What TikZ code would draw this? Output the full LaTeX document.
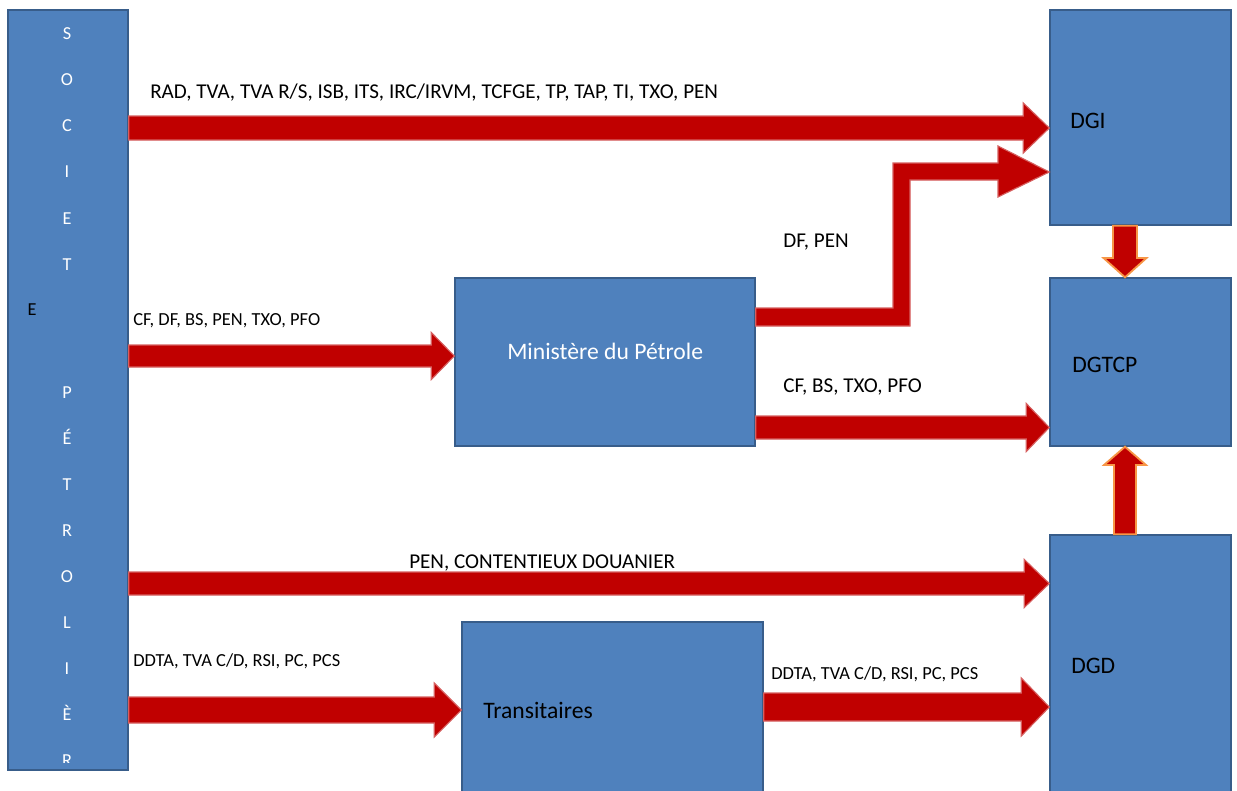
\documentclass[tikz,border=0pt]{standalone}
\usepackage{fontspec}
\setmainfont{Carlito}
\usetikzlibrary{calc}

\definecolor{boxblue}{RGB}{79,129,189}
\definecolor{boxline}{RGB}{56,93,138}
\definecolor{arrowred}{RGB}{192,0,0}
\definecolor{arrowedge}{RGB}{214,96,96}
\definecolor{arroworange}{RGB}{247,150,70}
\newcommand\pxu{0.025cm}

% horizontal block arrow: from, to, y, half shaft, half head, head length
\newcommand\fatarrow[6]{%
	\filldraw[fat] ($(#1 |- 0,#3)+(0,-#4)$) -- ($(#2 |- 0,#3)+(-#6,-#4)$) -- ($(#2 |- 0,#3)+(-#6,-#5)$) -- (#2 |- 0,#3) -- ($(#2 |- 0,#3)+(-#6,#5)$) -- ($(#2 |- 0,#3)+(-#6,#4)$) -- ($(#1 |- 0,#3)+(0,#4)$) -- cycle;
}

\tikzset{
	box/.style={draw=boxline, fill=boxblue, line width=1pt, inner sep=0pt},
	fat/.style={fill=arrowred, draw=arrowedge, line width=0.8pt},
	vfat/.style={fill=arrowred, draw=arroworange, line width=1.3pt},
	biglbl/.style={anchor=base west, inner sep=0pt, font=\fontsize{15}{17}\selectfont},
	smalllbl/.style={anchor=base west, inner sep=0pt, font=\fontsize{13.1}{15}\selectfont},
	boxlbl/.style={anchor=base west, inner sep=0pt, font=\fontsize{16.8}{19}\selectfont},
	letter/.style={anchor=base, inner sep=0pt, text=white, font=\fontsize{13}{15}\selectfont}
}

\begin{document}
\begin{tikzpicture}[x=0.025cm, y=-0.025cm]
	\useasboundingbox (0,0) rectangle (1237,790);
	\clip (0,0) rectangle (1237,790);

	% boxes
	\node[box, minimum width=120*\pxu, minimum height=760*\pxu] (soc) at (68,390) {};
	\node[box, minimum width=300*\pxu, minimum height=168*\pxu] (min) at (605,362) {};
	\node[box, minimum width=301*\pxu, minimum height=178*\pxu] (tra) at (612.5,711) {};
	\node[box, minimum width=181*\pxu, minimum height=215*\pxu] (dgi) at (1140.5,117.5) {};
	\node[box, minimum width=181*\pxu, minimum height=168*\pxu] (dgtcp) at (1140.5,362) {};
	\node[box, minimum width=181*\pxu, minimum height=265*\pxu] (dgd) at (1140.5,667.5) {};

	% vertical name
	\begin{scope}
		\clip (soc.north west) rectangle ($(soc.south east)+(0,-8)$);
		\foreach \l/\y [count=\i] in {S/39, O/85, C/131, I/177, E/224, T/270, P/398, É/444, T/490, R/536, O/582, L/628, I/674, È/720, R/766}
		{
			\node[letter] (let\i) at (67,\y) {\l};
		}
	\end{scope}
	\node[letter, text=black] (lete) at (32,315) {E};

	% box texts
	\node[boxlbl, text=white] (tmin) at (507,359) {Ministère du Pétrole};
	\node[boxlbl] (ttra) at (483,718) {Transitaires};
	\node[boxlbl] (tdgi) at (1070,128.5) {DGI};
	\node[boxlbl] (tdgtcp) at (1072,372) {DGTCP};
	\node[boxlbl] (tdgd) at (1071,673.5) {DGD};

	% flows
	\fatarrow{soc.east}{dgi.west}{128}{12}{25}{26}
	\fatarrow{soc.east}{min.west}{356}{11}{23.5}{23}
	\fatarrow{min.east}{dgtcp.west}{427.5}{11.5}{24}{23}
	\fatarrow{soc.east}{dgd.west}{583.5}{11.5}{24}{25}
	\fatarrow{soc.east}{tra.west}{710}{13}{27}{27}
	\fatarrow{tra.east}{dgd.west}{707}{14}{29}{28}
	\filldraw[fat] (min.east |- 0,308) -- (893,308) -- (893,163) -- (998,163) -- (998,146) -- (dgi.west |- 0,172) -- (998,197) -- (998,180) -- (910,180) -- (910,326) -- (min.east |- 0,326) -- cycle;
	\filldraw[vfat] (1113,0 |- dgi.south) -- (1113,258) -- (1103.5,258) -- (1125,0 |- dgtcp.north) -- (1146.5,258) -- (1137,258) -- (1137,0 |- dgi.south) -- cycle;
	\filldraw[vfat] (1114,0 |- dgd.north) -- (1114,465) -- (1104,465) -- (1125,0 |- dgtcp.south) -- (1146,465) -- (1136,465) -- (1136,0 |- dgd.north) -- cycle;

	% flow labels
	\node[biglbl] (lsd) at (150,98) {RAD, TVA, TVA R/S, ISB, ITS, IRC/IRVM, TCFGE, TP, TAP, TI, TXO, PEN};
	\node[smalllbl] (lsm) at (133,325) {CF, DF, BS, PEN, TXO, PFO};
	\node[biglbl] (lmd) at (783,247) {DF, PEN};
	\node[biglbl] (lmt) at (783,392) {CF, BS, TXO, PFO};
	\node[biglbl] (lsg) at (409,568) {PEN, CONTENTIEUX DOUANIER};
	\node[smalllbl] (lst) at (133,666) {DDTA, TVA C/D, RSI, PC, PCS};
	\node[smalllbl] (ltg) at (771,679) {DDTA, TVA C/D, RSI, PC, PCS};
\end{tikzpicture}
\end{document}
